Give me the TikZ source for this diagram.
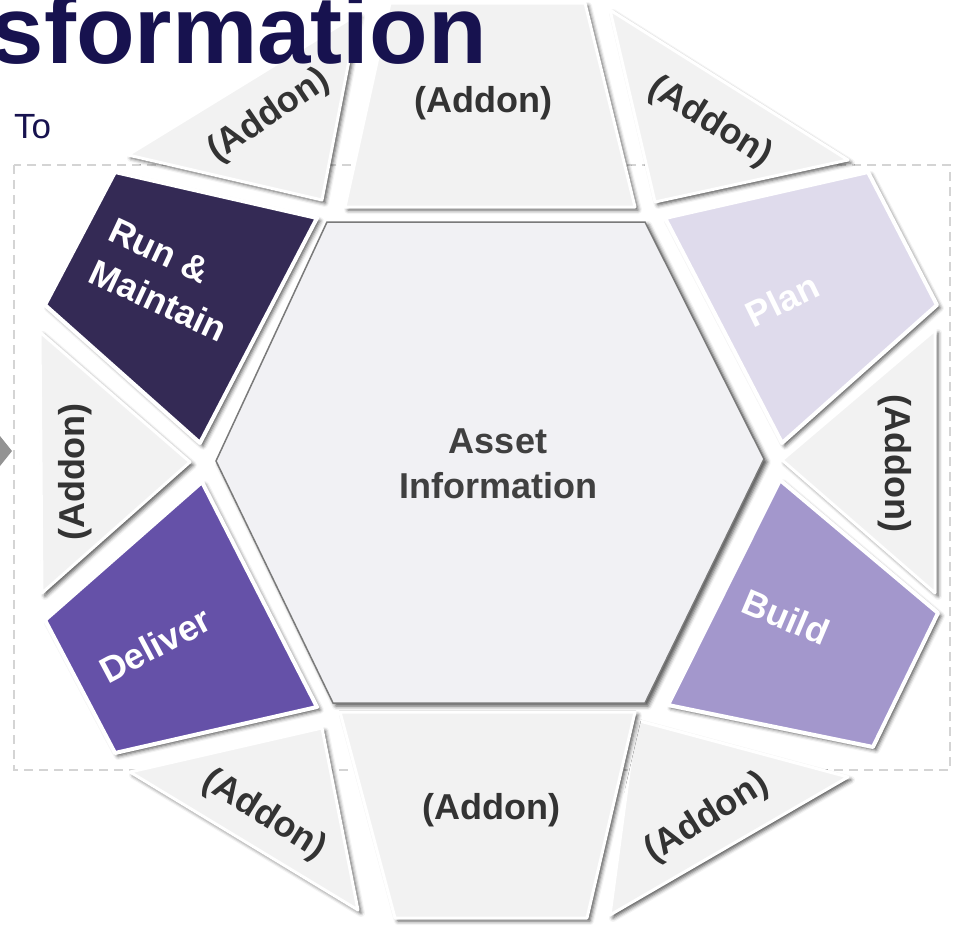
\documentclass[tikz,border=0pt]{standalone}
\usepackage{fontspec}
\setmainfont{Liberation Sans}
\usetikzlibrary{shadows.blur}
\definecolor{navy}{HTML}{17124F}
\definecolor{addonfill}{HTML}{F2F2F2}
\definecolor{addontxt}{HTML}{333333}
\definecolor{hexfill}{HTML}{F1F1F4}
\definecolor{hexline}{HTML}{7A7A7A}
\definecolor{hextxt}{HTML}{404040}
\definecolor{rmcol}{HTML}{342A55}
\definecolor{plancol}{HTML}{DFDBEC}
\definecolor{delcol}{HTML}{6551A8}
\definecolor{buildcol}{HTML}{A397CC}
\definecolor{dashcol}{HTML}{D4D4D4}
\tikzset{
  shd/.style={blur shadow={shadow xshift=3pt, shadow yshift=-3pt, shadow blur radius=4pt, shadow opacity=70}},
  addon/.style={fill=addonfill, draw=white, line width=3pt, line join=round, shd},
  phase/.style={draw=white, line width=4pt, line join=round, shd},
  addontext/.style={font=\fontsize{36}{42}\selectfont\bfseries, text=addontxt, inner sep=0pt},
  phasetext/.style={font=\fontsize{36}{46}\selectfont\bfseries, text=white, align=center, inner sep=0pt},
}
\begin{document}
\begin{tikzpicture}[x=1pt,y=-1pt]
\useasboundingbox (0,0) rectangle (961,926);
% dashed frame
\draw[dashcol, line width=1.5pt, dash pattern=on 9pt off 6pt] (14,165) rectangle (950,770);
% small arrow at left edge
\fill[gray!85] (0,436) -- (12,451) -- (0,466) -- cycle;
% addons
\path[addon] (128,155) -- (358,14) -- (322,200) -- cycle;
\path[addon] (390,3) -- (585,3) -- (635,207) -- (345,207) -- cycle;
\path[addon] (610,10) -- (848,160) -- (655,202) -- cycle;
\path[addon] (935,330) -- (935,593) -- (782,460) -- cycle;
\path[addon] (636,720) -- (848,777) -- (610,915) -- cycle;
\path[addon] (340,712) -- (635,712) -- (587,918) -- (395,918) -- cycle;
\path[addon] (130,772) -- (322,728) -- (358,910) -- cycle;
\path[addon] (40,332) -- (190,462) -- (42,593) -- cycle;
% phases
\path[phase, fill=rmcol] (115,172) -- (317,218) -- (200,443) -- (45,305) -- cycle;
\path[phase, fill=plancol] (665,218) -- (868,172) -- (937,305) -- (782,443) -- cycle;
\path[phase, fill=buildcol] (780,480) -- (938,613) -- (873,747) -- (668,705) -- cycle;
\path[phase, fill=delcol] (45,620) -- (202,482) -- (317,707) -- (115,753) -- cycle;
% hexagon
\path[fill=hexfill, draw=hexline, line width=1.5pt, line join=miter, shd]
  (327,222) -- (645,222) -- (764,459) -- (645,703) -- (333,703) -- (216,461) -- cycle;
% title
\node[anchor=base east, inner sep=0pt, font=\fontsize{96}{96}\selectfont\bfseries, text=navy] (title) at (487,63) {sformation};
\node[anchor=base west, inner sep=0pt, font=\fontsize{35}{40}\selectfont, text=navy] (to) at (14,138) {To};
% addon labels
\node[addontext] (aT) at (483,103) {(Addon)};
\node[addontext, rotate=34] (aTL) at (269,116) {(Addon)};
\node[addontext, rotate=-32] (aTR) at (710,122) {(Addon)};
\node[addontext, rotate=-90] (aR) at (895,463) {(Addon)};
\node[addontext, rotate=32] (aBR) at (707,818) {(Addon)};
\node[addontext] (aB) at (491,810) {(Addon)};
\node[addontext, rotate=-32] (aBL) at (264,815) {(Addon)};
\node[addontext, rotate=90] (aL) at (75,472) {(Addon)};
% phase labels
\node[phasetext, align=left, rotate=-25] (rm) at (168,280) {Run \&\\Maintain};
\node[phasetext, rotate=26] (plan) at (782,300) {Plan};
\node[phasetext, rotate=-23] (build) at (786,617) {Build};
\node[phasetext, rotate=28] (deliver) at (155,645) {Deliver};
% center
\node[font=\fontsize{36}{45}\selectfont\bfseries, text=hextxt, align=center, inner sep=0pt] (asset) at (498,464) {Asset\\Information};
\end{tikzpicture}
\end{document}
